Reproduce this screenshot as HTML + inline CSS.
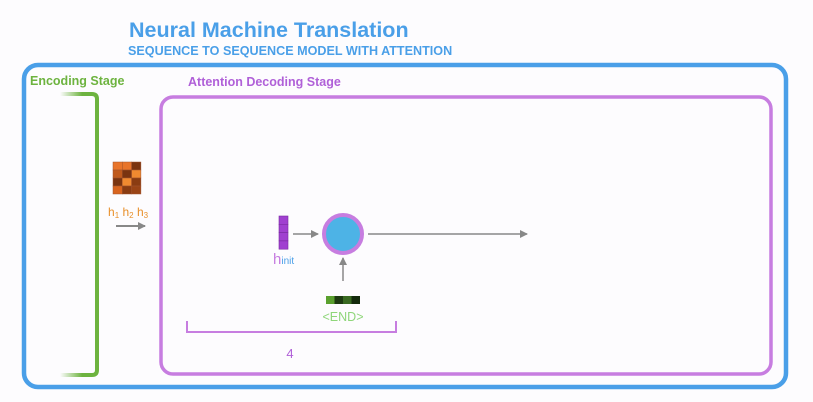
<!DOCTYPE html>
<html><head><style>
body{margin:0;background:#fff;}
svg{display:block;font-family:"Liberation Sans",sans-serif;}
</style></head><body>
<svg width="813" height="402" viewBox="0 0 813 402">
<defs>
<linearGradient id="gf" x1="0" x2="1"><stop offset="0" stop-color="#6db33f" stop-opacity="0"/><stop offset="0.6" stop-color="#6db33f"/></linearGradient>
<marker id="ah" markerWidth="8" markerHeight="8" refX="7" refY="4" orient="auto" markerUnits="userSpaceOnUse"><path d="M0,0 L8,4 L0,8 z" fill="#888"/></marker>
</defs>
<rect width="813" height="402" fill="#fdfcfe"/>
<text x="129" y="37" font-size="21.5" font-weight="bold" fill="#4a9fe8">Neural Machine Translation</text>
<text x="128" y="55" font-size="12.6" font-weight="bold" fill="#4a9fe8">SEQUENCE TO SEQUENCE MODEL WITH ATTENTION</text>
<rect x="24" y="65" width="762" height="322" rx="14" fill="none" stroke="#4a9fe8" stroke-width="4.5"/>
<text x="30" y="85" font-size="12.5" font-weight="bold" fill="#6db33f">Encoding Stage</text>
<text x="188" y="86" font-size="12.5" font-weight="bold" fill="#b060d8">Attention Decoding Stage</text>
<path d="M60,94 L92,94 Q97,94 97,99 L97,370 Q97,375 92,375 L60,375" fill="none" stroke="url(#gf)" stroke-width="4"/>
<rect x="161" y="97" width="610" height="277" rx="12" fill="none" stroke="#c77de0" stroke-width="3.5"/>
<!-- matrix -->
<g stroke="#a0522d" stroke-width="0.5">
<rect x="113" y="162" width="9.3" height="8" fill="#e8742a"/><rect x="122.3" y="162" width="9.3" height="8" fill="#e8742a"/><rect x="131.6" y="162" width="9.3" height="8" fill="#7a3410"/>
<rect x="113" y="170" width="9.3" height="8" fill="#c05a1c"/><rect x="122.3" y="170" width="9.3" height="8" fill="#7a3410"/><rect x="131.6" y="170" width="9.3" height="8" fill="#f08a30"/>
<rect x="113" y="178" width="9.3" height="8" fill="#7a3410"/><rect x="122.3" y="178" width="9.3" height="8" fill="#f08a30"/><rect x="131.6" y="178" width="9.3" height="8" fill="#8a3c12"/>
<rect x="113" y="186" width="9.3" height="8" fill="#d8641e"/><rect x="122.3" y="186" width="9.3" height="8" fill="#8a3c12"/><rect x="131.6" y="186" width="9.3" height="8" fill="#9a4416"/>
</g>
<text x="108" y="216" font-size="12" fill="#e8902a">h<tspan font-size="8" dy="2">1</tspan><tspan dy="-2"> h</tspan><tspan font-size="8" dy="2">2</tspan><tspan dy="-2"> h</tspan><tspan font-size="8" dy="2">3</tspan></text>
<line x1="116" y1="226" x2="145" y2="226" stroke="#888" stroke-width="2" marker-end="url(#ah)"/>
<!-- hinit -->
<g fill="#a040d0" stroke="#7a2aa0" stroke-width="0.6">
<rect x="279" y="216" width="9" height="8.3"/><rect x="279" y="224.3" width="9" height="8.3"/><rect x="279" y="232.6" width="9" height="8.3"/><rect x="279" y="240.9" width="9" height="8.3"/>
</g>
<text x="273" y="264" font-size="15" fill="#c77de0">h<tspan font-size="10" fill="#4a9fe8">init</tspan></text>
<line x1="293" y1="234" x2="318" y2="234" stroke="#888" stroke-width="1.5" marker-end="url(#ah)"/>
<circle cx="343" cy="234" r="19" fill="#4db3e6" stroke="#c77de0" stroke-width="4"/>
<line x1="368" y1="234" x2="527" y2="234" stroke="#888" stroke-width="1.5" marker-end="url(#ah)"/>
<line x1="343" y1="281" x2="343" y2="258" stroke="#888" stroke-width="1.5" marker-end="url(#ah)"/>
<g>
<rect x="326" y="296" width="8.5" height="8" fill="#5aa02e"/><rect x="334.5" y="296" width="8.5" height="8" fill="#1e3a12"/><rect x="343" y="296" width="8.5" height="8" fill="#3a6a22"/><rect x="351.5" y="296" width="8.5" height="8" fill="#142a0c"/>
</g>
<text x="343" y="321" font-size="12.5" fill="#8fd67a" text-anchor="middle">&lt;END&gt;</text>
<path d="M187,321 L187,332 L396,332 L396,321" fill="none" stroke="#c77de0" stroke-width="2"/>
<text x="290" y="358" font-size="13" fill="#b060d8" text-anchor="middle">4</text>
</svg>
</body></html>
